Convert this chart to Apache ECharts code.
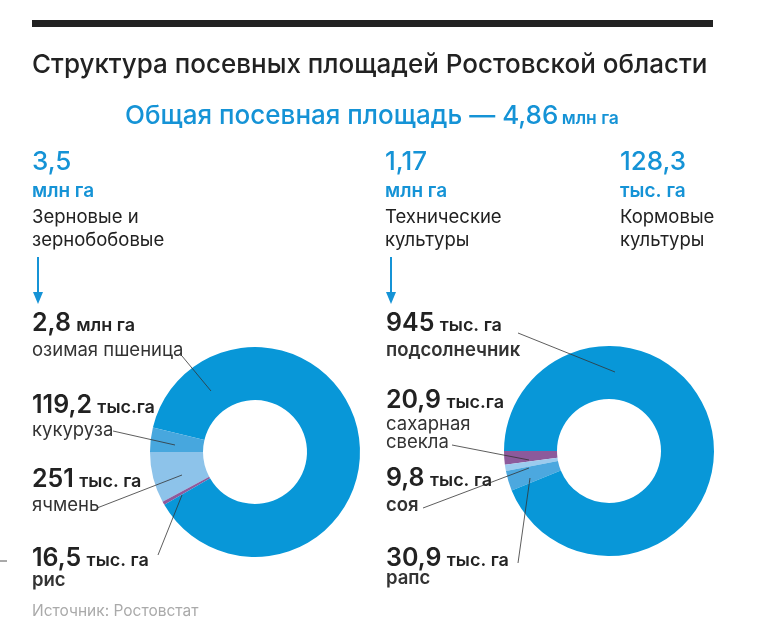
<!DOCTYPE html>
<html>
<head>
<meta charset="utf-8">
<script src="https://cdn.jsdelivr.net/npm/echarts@6/dist/echarts.min.js"></script>
<style>
  html, body { margin: 0; padding: 0; background: #fff; }
  #main { width: 774px; height: 635px; }
</style>
</head>
<body>
<div id="main"></div>
<script>
// данные (тыс. га)
var grainNames = ['ячмень', 'рис', 'озимая пшеница', 'кукуруза'];
var grainValues = [251, 16.5, 2800, 119.2];
var grainLabels = ['251', '16,5', '2,8', '119,2'];
var grainUnits = ['тыс. га', 'тыс. га', 'млн га', 'тыс.га'];

var techNames = ['сахарная\nсвекла', 'соя', 'рапс', 'подсолнечник'];
var techValues = [20.9, 9.8, 30.9, 945];
var techLabels = ['20,9', '9,8', '30,9', '945'];
var techUnits = ['тыс.га', 'тыс. га', 'тыс. га', 'тыс. га'];

var groupTotals = ['3,5', '1,17', '128,3'];
var groupUnits = ['млн га', 'млн га', 'тыс. га'];
var groupNames = [['Зерновые и', 'зернобобовые'], ['Технические', 'культуры'], ['Кормовые', 'культуры']];

var totalArea = '4,86';

// стили
var grainColors = ['#8dc3ea', '#8e5a9c', '#0897d8', '#47a7de'];
var techColors = ['#8c5a9b', '#9ccbee', '#4ca8df', '#0897d8'];
var nameBold = { 'рис': true, 'соя': true, 'рапс': true, 'подсолнечник': true };
var FONT = 'Inter';
var BLUE = '#1593d6';

var myChart = echarts.init(document.getElementById('main'));

function pieData(names, values, colors) {
    return names.map(function (n, i) {
        return { name: n, value: values[i], itemStyle: { color: colors[i] } };
    });
}

// позиции подписей: x, базовая линия числа, базовая линия названия, выноска
var grainPos = [
    { x: 32, base: 488, nameBase: 512, line: [[97, 508], [182, 475]] },
    { x: 32, base: 567, nameBase: 587, line: [[158, 555], [182, 495]] },
    { x: 32, base: 332, nameBase: 357, line: [[182, 356], [211, 391]] },
    { x: 32, base: 414, nameBase: 437, line: [[113, 431], [175, 445]] }
];
var techPos = [
    { x: 386, base: 409, nameBase: 431, line: [[452, 445], [529, 460]] },
    { x: 386, base: 487, nameBase: 512, line: [[423, 508], [529, 468]] },
    { x: 386, base: 567, nameBase: 585, line: [[518, 563], [530, 478]] },
    { x: 386, base: 332, nameBase: 357, line: [[518, 333], [615, 372]] }
];
var headerX = [32, 385, 620];
var arrowX = [38, 391];

var graphics = [];

graphics.push({
    type: 'rect', shape: { x: 32, y: 20, width: 681, height: 7 },
    style: { fill: '#222' }, silent: true
});
graphics.push({
    type: 'text', x: 32, y: 75 - 0.36 * 26,
    style: { text: 'Структура посевных площадей Ростовской области', font: '500 26px ' + FONT,
        fill: '#222', verticalAlign: 'middle' }
});
graphics.push({
    type: 'text', x: 125, y: 129,
    style: {
        text: '{a|Общая посевная площадь — ' + totalArea + '} {b|млн га}',
        verticalAlign: 'bottom',
        rich: {
            a: { font: '500 26px ' + FONT, fill: BLUE, lineHeight: 26, verticalAlign: 'bottom' },
            b: { font: '600 17.5px ' + FONT, fill: BLUE, lineHeight: 17, verticalAlign: 'bottom', padding: [0, 0, 1, 0] }
        }
    }
});

groupTotals.forEach(function (t, i) {
    var x = headerX[i];
    graphics.push({ type: 'text', x: x, y: 172 - 0.36 * 26,
        style: { text: t, font: '500 26px ' + FONT, fill: BLUE, verticalAlign: 'middle' } });
    graphics.push({ type: 'text', x: x, y: 198 - 0.36 * 19,
        style: { text: groupUnits[i], font: '600 19px ' + FONT, fill: BLUE, verticalAlign: 'middle' } });
    groupNames[i].forEach(function (s, j) {
        graphics.push({ type: 'text', x: x, y: 224 + j * 23 - 0.36 * 18.5,
            style: { text: s, font: '400 18.5px ' + FONT, fill: '#222', verticalAlign: 'middle' } });
    });
});

arrowX.forEach(function (x) {
    graphics.push({ type: 'line', shape: { x1: x, y1: 257, x2: x, y2: 296 },
        style: { stroke: BLUE, lineWidth: 2 } });
    graphics.push({ type: 'polygon', shape: { points: [[x - 5, 292], [x + 5, 292], [x, 304]] },
        style: { fill: BLUE } });
});

function addLabels(labels, units, names, pos) {
    labels.forEach(function (l, i) {
        var p = pos[i];
        graphics.push({ type: 'text', x: p.x, y: p.base + 3.5,
            style: {
                text: '{n|' + l + '} {u|' + units[i] + '}',
                verticalAlign: 'bottom',
                rich: {
                    n: { font: '600 25px ' + FONT, fill: '#222', lineHeight: 25, verticalAlign: 'bottom' },
                    u: { font: '600 18px ' + FONT, fill: '#222', lineHeight: 18, verticalAlign: 'bottom', padding: [0, 0, 1, 2] }
                }
            } });
        var lines = names[i].split('\n');
        lines.forEach(function (s, j) {
            graphics.push({ type: 'text', x: p.x, y: p.nameBase + j * 18 - 0.36 * 18.5,
                style: { text: s, font: (nameBold[s] ? '600 ' : '400 ') + '18.5px ' + FONT,
                    fill: '#333', verticalAlign: 'middle' } });
        });
        graphics.push({ type: 'polyline', shape: { points: p.line },
            style: { stroke: '#333', lineWidth: 0.8, fill: null }, z: 10 });
    });
}
addLabels(grainLabels, grainUnits, grainNames, grainPos);
addLabels(techLabels, techUnits, techNames, techPos);

graphics.push({ type: 'text', x: 32, y: 617 - 0.36 * 15.5,
    style: { text: 'Источник: Ростовстат', font: '400 15.5px ' + FONT, fill: '#aaa', verticalAlign: 'middle' } });
graphics.push({ type: 'line', shape: { x1: 0, y1: 561, x2: 7, y2: 561 },
    style: { stroke: '#555', lineWidth: 1 } });

option = {
    animation: false,
    backgroundColor: '#fff',
    graphic: graphics,
    series: [{
        type: 'pie',
        center: [255, 452],
        radius: [52, 105],
        startAngle: 180,
        clockwise: false,
        silent: true,
        label: { show: false },
        labelLine: { show: false },
        data: pieData(grainNames, grainValues, grainColors)
    }, {
        type: 'pie',
        center: [609, 451],
        radius: [52, 105],
        startAngle: 180,
        clockwise: false,
        silent: true,
        label: { show: false },
        labelLine: { show: false },
        data: pieData(techNames, techValues, techColors)
    }]
};

myChart.setOption(option);
</script>
</body>
</html>
